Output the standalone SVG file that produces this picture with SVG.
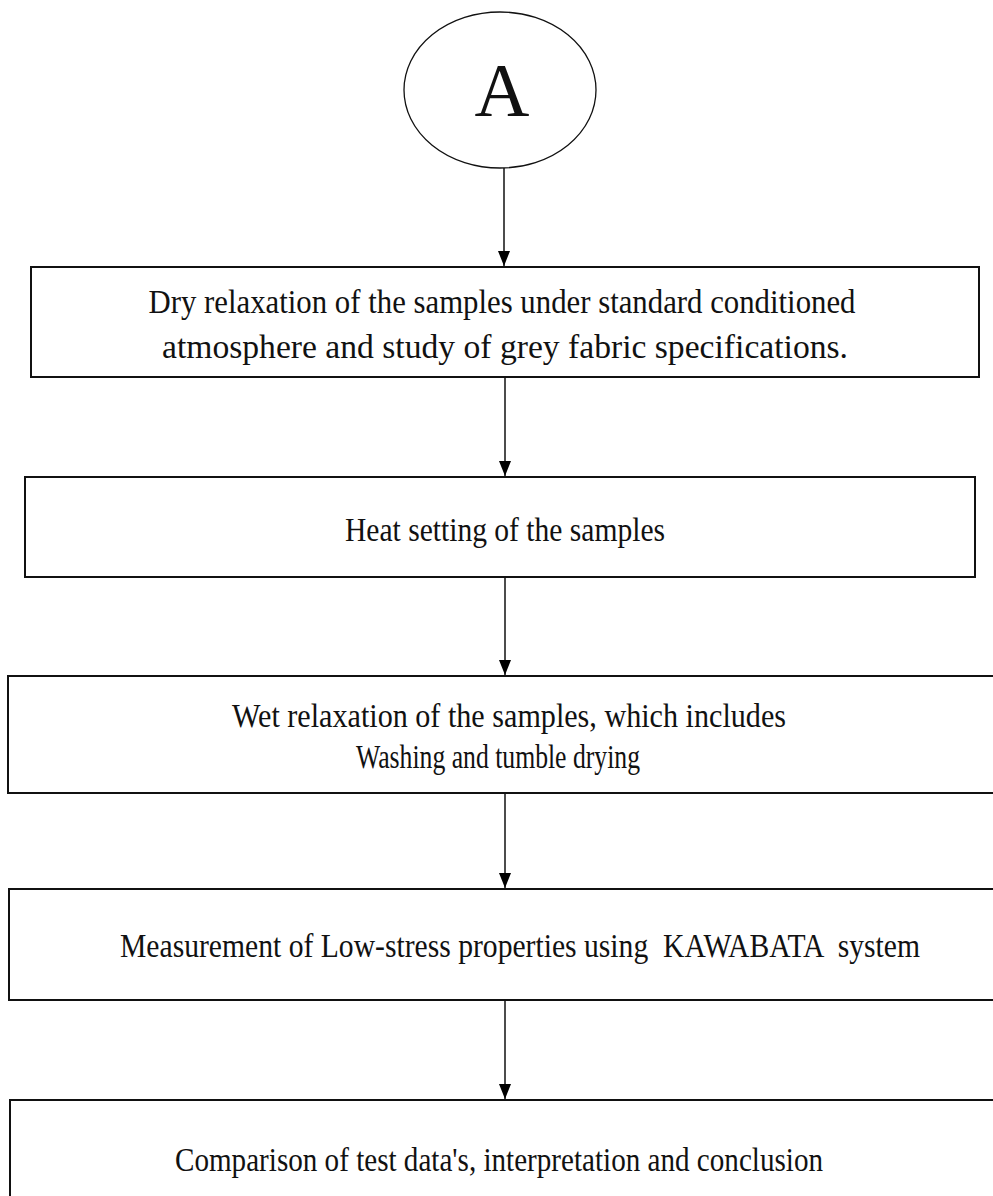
<svg xmlns="http://www.w3.org/2000/svg" width="993" height="1196" viewBox="0 0 993 1196">
<defs>
<marker id="ah" markerWidth="15" markerHeight="12" refX="15" refY="6" orient="auto" markerUnits="userSpaceOnUse" viewBox="0 0 15 12">
<path d="M0,0 L15,6 L0,12 Z" fill="#000"/>
</marker>
</defs>
<style>
.box{fill:#fff;stroke:#111;stroke-width:2}
.t{font-family:"Liberation Serif","Times New Roman",serif;font-size:33px;fill:#111;text-anchor:middle}
.conn line{stroke:#111;stroke-width:1.5}
</style>
<rect width="993" height="1196" fill="#fff"/>
<g id="node-A">
<ellipse cx="500" cy="90" rx="96" ry="78" fill="#fff" stroke="#111" stroke-width="1.3"/>
<text x="502" y="116" style="font-family:'Liberation Serif','Times New Roman',serif;font-size:76px;fill:#111;text-anchor:middle">A</text>
</g>
<g id="node-dry">
<rect class="box" x="31" y="267" width="948" height="110"/>
<text class="t" x="502" y="313" textLength="707" lengthAdjust="spacingAndGlyphs">Dry relaxation of the samples under standard conditioned</text>
<text class="t" x="505" y="358" textLength="686" lengthAdjust="spacingAndGlyphs">atmosphere and study of grey fabric specifications.</text>
</g>
<g id="node-heat">
<rect class="box" x="25" y="477" width="950" height="100"/>
<text class="t" x="505" y="541" textLength="320" lengthAdjust="spacingAndGlyphs">Heat setting of the samples</text>
</g>
<g id="node-wet">
<rect class="box" x="8" y="676" width="987" height="117"/>
<text class="t" x="509" y="727" textLength="554" lengthAdjust="spacingAndGlyphs">Wet relaxation of the samples, which includes</text>
<text class="t" x="498" y="768" textLength="284" lengthAdjust="spacingAndGlyphs">Washing and tumble drying</text>
</g>
<g id="node-measure">
<rect class="box" x="9" y="889" width="986" height="111"/>
<text class="t" x="520" y="957" textLength="800" lengthAdjust="spacingAndGlyphs">Measurement of Low-stress properties using &#160;KAWABATA &#160;system</text>
</g>
<g id="node-compare">
<rect class="box" x="10" y="1100" width="985" height="110"/>
<text class="t" x="499" y="1171" textLength="648" lengthAdjust="spacingAndGlyphs">Comparison of test data's, interpretation and conclusion</text>
</g>
<g id="connectors" class="conn">
<line x1="504" y1="168" x2="504" y2="266" marker-end="url(#ah)"/>
<line x1="505" y1="378" x2="505" y2="476" marker-end="url(#ah)"/>
<line x1="505" y1="578" x2="505" y2="675" marker-end="url(#ah)"/>
<line x1="505" y1="794" x2="505" y2="888" marker-end="url(#ah)"/>
<line x1="505" y1="1001" x2="505" y2="1099" marker-end="url(#ah)"/>
</g>
</svg>
